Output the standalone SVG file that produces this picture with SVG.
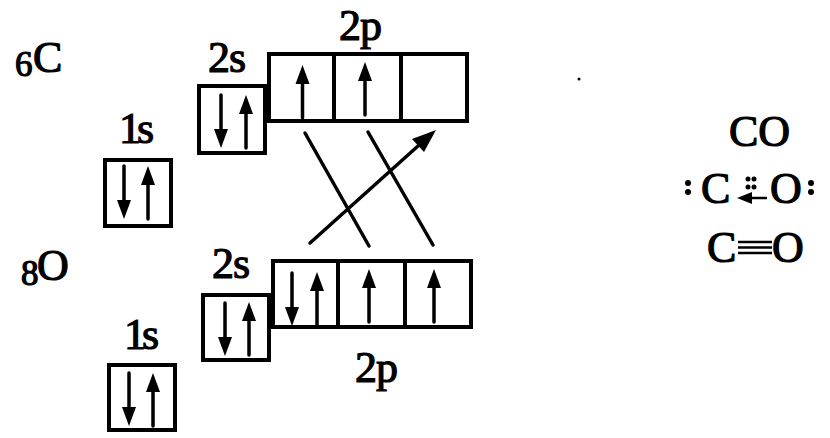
<svg xmlns="http://www.w3.org/2000/svg" width="830" height="438" viewBox="0 0 830 438">
<style>
text{font-family:"Liberation Serif",serif;fill:#000;stroke:#000;stroke-width:1.2}
.t{font-size:44px}
.sub{font-size:35px}
.b{fill:#fff;stroke:#000;stroke-width:4}
.d{stroke:#000;stroke-width:4;fill:none}
.l{stroke:#000;stroke-width:3.5;fill:none;stroke-linecap:round}
.e{stroke:#000;stroke-width:2.5;fill:none}
</style>
<defs>
<g id="up"><path d="M0 0V-40" class="l"/><path d="M0 -53L7 -34H-7Z"/></g>
<g id="dn"><path d="M0 0V40" class="l"/><path d="M0 53L7 34H-7Z"/></g>
</defs>
<rect width="830" height="438" fill="#fff"/>
<g id="c-label"><text x="15" y="76" class="sub">6</text><text x="33" y="72" class="t">C</text></g>
<g id="o-label"><text x="21" y="285" class="sub">8</text><text x="37" y="280" class="t">O</text></g>
<g id="c-1s"><text x="119" y="143" class="t" textLength="35">1s</text><rect class="b" x="105" y="160" width="66" height="66"/><use href="#dn" x="124" y="166"/><use href="#up" x="148" y="219"/></g>
<g id="c-2s"><text x="208" y="72" class="t" textLength="38">2s</text><rect class="b" x="199" y="86" width="66" height="67"/><use href="#dn" x="221" y="95"/><use href="#up" x="246" y="148"/></g>
<g id="c-2p"><text x="339" y="40" class="t" textLength="43">2p</text><rect class="b" x="269" y="54" width="198" height="67"/><path class="d" d="M334 54V121M401 54V121"/><use href="#up" x="302.500" y="118"/><use href="#up" x="365" y="115"/></g>
<g id="o-1s"><text x="124" y="349" class="t" textLength="35">1s</text><rect class="b" x="109" y="365" width="66" height="65"/><use href="#dn" x="129" y="373"/><use href="#up" x="153" y="426"/></g>
<g id="o-2s"><text x="212" y="278" class="t" textLength="38">2s</text><rect class="b" x="203" y="295" width="66" height="65"/><use href="#dn" x="225" y="303"/><use href="#up" x="249" y="355"/></g>
<g id="o-2p"><text x="355" y="382" class="t" textLength="43">2p</text><rect class="b" x="273" y="261" width="198" height="66"/><path class="d" d="M338 261V327M405 261V327"/><use href="#dn" x="292" y="273"/><use href="#up" x="317" y="325"/><use href="#up" x="369" y="322"/><use href="#up" x="434" y="322"/></g>
<g id="connectors"><path class="l" d="M305 133L369 246M368 132L433 245M310 243L418 146"/><path d="M436 130L424 152L412 139Z"/></g>
<g id="co"><text x="729" y="146" class="t">CO</text><text x="701" y="203" class="t">C</text><text x="770" y="203" class="t">O</text><text x="707" y="262" class="t">C</text><text x="772" y="262" class="t">O</text>
<g><circle cx="688" cy="183" r="3"/><circle cx="688" cy="192" r="3"/><circle cx="811" cy="183" r="3"/><circle cx="811" cy="192" r="3"/><circle cx="748" cy="179" r="2.500"/><circle cx="754" cy="179" r="2.500"/><circle cx="748" cy="187" r="2.500"/><circle cx="754" cy="187" r="2.500"/></g>
<path class="e" d="M748 198H767"/><path d="M737 198L752 192V204Z"/><path class="e" d="M738 242H772M738 247.500H772M738 253H772"/></g>
<circle cx="579" cy="79" r="1.500"/>
</svg>
